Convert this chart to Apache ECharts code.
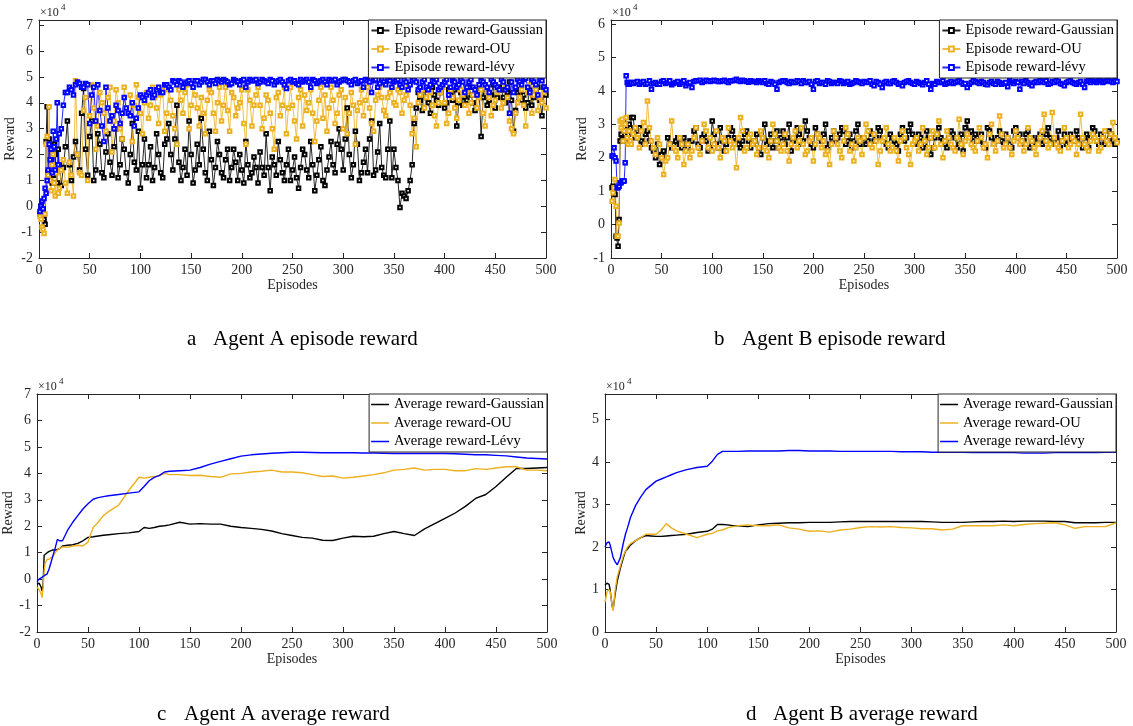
<!DOCTYPE html>
<html><head><meta charset="utf-8">
<script src="https://cdn.jsdelivr.net/npm/echarts@6/dist/echarts.min.js"></script>
<style>html,body{margin:0;padding:0;background:#fff}#c{width:1133px;height:726px}</style>
</head><body><div id="c"></div><script>
// ---------- Episode x positions (episodes) ----------
const EP_X = [1,2,3,4,5,6,7,8,9,10,11,12,13,14,15,16,17,18,19,20,
22,24,26,28,30,32,34,36,38,40,42,44,46,48,50,52,54,56,58,60,
62,64,66,68,70,72,74,76,78,80,82,84,86,88,90,92,94,96,98,100,
102,104,106,108,110,112,114,116,118,120,122,124,126,128,130,132,134,136,138,140,
142,144,146,148,150,152,154,156,158,160,162,164,166,168,170,172,174,176,178,180,
182,184,186,188,190,192,194,196,198,200,202,204,206,208,210,212,214,216,218,220,
222,224,226,228,230,232,234,236,238,240,242,244,246,248,250,252,254,256,258,260,
262,264,266,268,270,272,274,276,278,280,282,284,286,288,290,292,294,296,298,300,
302,304,306,308,310,312,314,316,318,320,322,324,326,328,330,332,334,336,338,340,
342,344,346,348,350,352,354,356,358,360,362,364,366,368,370,372,374,376,378,380,
382,384,386,388,390,392,394,396,398,400,402,404,406,408,410,412,414,416,418,420,
422,424,426,428,430,432,434,436,438,440,442,444,446,448,450,452,454,456,458,460,
462,464,466,468,470,472,474,476,478,480,482,484,486,488,490,492,494,496,498,500];

// ---------- Agent A episode reward (x10^4) ----------
const A_GAUSS = [-0.3,0.0,-0.2,-0.1,-0.5,-0.7,2.5,3.85,1.3,2.6,1.0,1.8,0.9,1.2,2.4,2.0,1.4,0.9,2.2,1.6,
0.8,1.5,2.3,3.3,1.6,1.0,1.9,2.5,2.0,1.4,3.6,4.55,2.2,1.2,2.7,3.3,1.0,1.4,2.8,2.4,
1.3,1.1,2.1,2.8,1.7,1.2,2.3,3.0,1.1,1.6,2.6,2.2,1.3,0.9,2.0,3.2,1.7,1.4,2.9,0.7,
1.6,2.6,1.1,1.6,2.3,1.0,1.5,2.8,2.0,1.3,1.1,2.4,2.6,3.2,2.0,1.4,2.6,3.9,1.7,1.0,
1.5,2.2,1.2,3.3,2.0,0.9,1.4,2.4,1.6,3.4,2.2,1.3,1.0,2.9,1.8,0.8,1.5,2.5,2.0,1.3,
1.1,1.8,2.2,1.0,1.5,2.2,1.7,1.0,2.0,1.4,0.9,2.5,1.6,1.1,1.3,1.9,1.5,0.9,2.1,1.5,
1.2,2.8,1.5,0.6,1.9,1.6,1.2,2.5,1.8,1.3,1.0,1.6,2.2,1.0,1.4,1.9,1.1,0.7,1.5,2.2,
2.0,1.4,1.1,2.5,1.6,0.6,1.2,1.8,2.3,1.0,0.8,1.4,1.9,2.5,1.6,1.3,2.4,3.0,2.2,1.4,
2.6,3.8,2.0,1.1,1.6,2.9,2.4,1.0,1.3,1.7,2.2,1.3,2.6,3.3,1.2,1.4,2.1,3.2,1.5,1.2,
1.1,2.2,3.3,1.1,2.2,1.5,1.0,-0.05,0.5,0.4,0.3,0.6,1.0,1.6,3.2,3.8,4.4,4.1,3.7,4.5,
4.2,4.0,3.6,4.6,4.3,4.1,3.9,4.4,4.7,3.8,4.0,4.5,4.3,4.1,4.5,3.1,4.0,4.4,3.9,4.2,
4.1,4.6,4.3,4.0,3.7,4.3,4.6,2.7,4.2,4.4,3.9,4.1,4.3,4.7,3.8,4.2,4.6,4.5,4.2,4.0,
4.4,4.8,4.1,2.9,3.7,4.4,4.5,4.1,4.3,3.8,4.0,4.5,3.9,4.2,4.4,4.6,4.1,3.5,4.6,4.3];
const A_OU = [-0.4,-0.5,-0.8,-0.9,-1.05,-0.3,2.4,2.7,1.2,3.85,1.0,0.6,1.6,2.0,0.9,0.4,1.3,1.5,0.5,0.7,
1.4,1.8,0.9,0.5,1.7,1.2,0.4,4.85,2.0,1.3,1.2,3.7,4.2,1.0,3.5,4.7,3.8,2.2,3.1,4.4,
4.0,3.6,2.9,4.2,4.6,2.1,3.3,4.5,4.0,3.0,2.6,4.6,3.8,3.6,4.3,2.5,3.9,4.7,4.2,3.6,
2.8,4.0,4.4,3.4,3.9,4.6,4.2,3.8,3.2,4.3,4.5,2.9,3.6,4.5,4.1,3.5,3.0,2.4,4.5,4.1,
3.6,4.4,4.7,3.0,3.9,4.6,4.3,3.8,3.1,4.2,3.6,2.8,4.1,4.5,4.4,3.6,2.9,4.0,4.6,3.3,
3.9,4.6,3.7,2.9,4.4,4.2,3.5,3.8,4.0,4.5,3.2,2.4,4.5,4.1,3.1,3.9,4.3,4.6,3.9,3.0,
3.4,4.3,4.1,3.6,3.0,2.2,4.2,4.4,3.5,3.9,4.6,2.8,3.8,4.6,3.9,3.3,2.6,4.2,4.5,3.1,
4.3,3.7,4.0,4.5,3.6,2.5,3.3,4.1,4.6,3.4,4.3,2.9,3.8,4.6,4.1,3.2,3.6,4.3,4.5,3.0,
4.2,2.8,3.6,4.4,3.9,2.4,3.7,4.0,4.5,3.5,4.1,4.6,3.8,3.2,2.9,4.1,4.3,4.6,4.2,3.7,
3.5,4.2,4.4,4.6,4.0,3.9,4.5,4.4,3.6,4.1,4.3,4.6,3.9,2.8,3.4,2.3,4.0,4.3,4.5,3.8,
4.2,4.6,4.4,3.9,3.5,3.1,4.0,4.4,4.6,4.0,3.2,3.6,4.5,4.2,3.8,3.4,4.1,4.5,4.3,3.9,
4.4,3.6,4.0,4.3,4.6,3.8,4.2,4.5,3.6,3.1,4.4,4.2,3.5,3.9,4.1,4.4,4.5,3.8,4.0,4.6,
4.2,3.3,3.0,2.8,3.6,4.0,4.2,4.5,3.9,3.1,4.4,4.7,3.6,4.3,4.5,3.7,4.2,4.0,4.4,3.8];
const A_LEVY = [-0.2,0.0,0.2,-0.1,0.3,0.7,0.5,1.0,1.4,2.4,1.8,2.2,1.3,2.9,2.3,1.4,2.6,4.0,1.6,2.8,
3.0,3.9,4.4,4.4,4.6,4.5,4.3,4.7,4.8,4.75,4.6,4.6,4.75,4.7,3.2,4.3,4.6,3.3,4.7,3.7,
3.1,2.5,4.6,3.8,3.3,3.5,3.0,3.9,3.7,3.2,3.6,4.2,3.8,3.6,3.5,4.0,3.1,3.4,3.8,4.3,
4.2,4.1,4.3,4.4,4.5,4.2,4.3,4.5,4.6,4.4,4.4,4.7,4.7,4.6,4.5,4.85,4.8,4.7,4.85,4.8,
4.6,4.75,4.8,4.85,4.75,4.6,4.85,4.85,4.7,4.8,4.9,4.9,4.8,4.7,4.85,4.85,4.75,4.9,4.85,4.8,
4.9,4.85,4.8,4.7,4.75,4.9,4.85,4.8,4.7,4.85,4.9,4.6,4.8,4.9,4.85,4.85,4.9,4.75,4.8,4.9,
4.85,4.8,4.75,4.9,4.85,4.7,4.8,4.85,4.9,4.8,4.7,4.55,4.85,4.9,4.8,4.85,4.75,4.7,4.9,4.8,
4.85,4.9,4.8,4.6,4.9,4.85,4.75,4.8,4.85,4.9,4.8,4.7,4.9,4.85,4.85,4.9,4.7,4.8,4.85,4.9,
4.9,4.85,4.8,4.7,4.85,4.9,4.75,4.8,4.85,4.6,4.9,4.85,4.8,4.4,4.85,4.9,4.6,4.75,4.9,4.8,
4.7,4.9,4.85,4.6,4.8,4.85,4.9,4.7,4.6,4.9,4.8,4.5,4.7,4.85,4.9,4.8,4.5,4.6,4.8,4.9,
4.6,4.5,4.7,4.85,4.8,4.9,4.5,4.6,4.7,4.8,4.9,4.3,4.6,4.85,4.8,4.6,4.7,4.9,4.8,4.4,
4.6,4.8,4.9,4.6,4.5,4.3,4.7,4.85,4.8,4.7,4.6,4.4,4.9,4.8,4.7,4.6,4.5,4.9,4.8,4.5,
4.6,3.6,4.8,4.4,4.6,4.9,4.8,4.7,4.9,4.95,4.6,4.4,4.9,4.8,4.7,4.3,4.9,4.85,4.6,4.5];

// ---------- Agent B episode reward (x10^4) ----------
const B_GAUSS = [1.1,1.15,1.05,0.9,-0.35,-0.4,-0.65,0.15,2.5,2.7,2.6,2.55,2.9,2.8,2.5,2.6,2.7,3.0,2.9,3.2,
3.2,2.6,2.8,2.9,2.5,2.4,2.7,2.8,2.5,2.3,2.2,2.0,2.4,1.8,2.1,2.2,2.0,2.6,2.4,2.3,
2.4,2.5,2.6,2.4,2.3,2.6,2.4,2.3,2.5,2.5,2.8,2.9,2.4,2.3,2.6,2.7,2.5,2.2,2.3,3.1,
2.7,2.4,2.3,2.9,2.5,2.2,2.4,2.6,2.9,2.8,2.6,2.5,2.4,2.3,2.5,2.7,2.8,2.5,2.3,2.4,
2.5,2.7,2.3,2.1,2.6,3.0,2.4,2.5,2.7,2.3,2.5,2.8,2.3,2.6,2.8,2.4,2.6,3.0,2.2,2.5,
2.6,2.9,2.7,2.4,2.5,3.1,2.8,2.6,2.4,2.3,2.9,2.7,2.6,2.5,2.7,3.0,2.3,2.4,2.6,2.8,
2.5,2.6,2.7,2.9,2.8,2.4,2.5,2.7,2.3,2.5,2.8,3.0,2.4,2.6,2.6,2.4,2.5,2.8,2.7,2.5,
2.6,2.9,2.8,2.6,2.5,2.4,2.3,2.7,2.6,2.5,2.4,2.2,2.7,2.9,2.5,2.6,2.8,3.0,2.7,2.4,
2.5,2.7,2.6,2.3,2.4,2.8,2.6,2.1,2.3,2.6,2.7,2.9,2.6,2.5,2.4,2.3,2.6,2.8,2.7,2.6,
2.3,2.4,2.7,2.2,2.9,3.1,2.7,2.8,2.5,2.7,2.6,2.5,2.7,2.4,2.3,2.9,2.8,2.6,2.4,2.5,
2.6,2.8,2.5,2.4,2.7,2.6,2.4,2.3,2.8,2.9,2.6,2.7,2.4,2.5,2.7,2.8,2.3,2.6,2.5,2.4,
2.6,2.7,2.4,2.5,2.7,2.9,2.6,2.4,2.5,2.6,2.8,2.3,2.5,2.7,2.4,2.5,2.7,2.6,2.5,2.8,
2.6,2.4,2.3,2.6,2.7,2.3,2.6,2.9,2.8,2.5,2.4,2.7,2.6,2.4,2.5,2.8,2.7,2.5,2.4,2.5];
const B_OU = [0.7,0.95,1.1,1.35,0.55,-0.35,-0.35,0.05,3.1,2.9,3.15,2.5,2.8,3.0,3.2,2.6,2.4,2.8,2.5,2.4,
2.7,2.9,2.6,2.3,2.8,3.05,2.4,3.7,2.9,2.5,2.3,2.1,2.6,2.4,2.0,1.5,1.9,2.0,2.4,3.1,
2.3,2.2,2.0,2.6,2.4,1.8,2.2,2.4,2.0,2.2,2.6,2.9,2.3,2.1,2.5,3.0,2.8,2.3,2.6,2.2,
2.4,2.8,2.3,2.0,2.6,2.5,2.2,2.9,2.5,2.3,2.4,1.7,2.6,3.2,2.8,2.2,2.3,2.6,2.7,2.4,
2.5,2.1,2.3,2.8,2.6,2.3,2.2,2.0,2.5,3.0,2.7,2.5,2.3,2.2,2.4,2.7,2.2,1.9,2.4,2.6,
2.8,2.3,2.5,2.9,2.4,2.1,2.2,2.5,2.6,1.9,2.4,2.7,2.6,2.3,2.5,2.1,2.2,1.8,2.4,2.8,
2.6,2.4,2.2,2.0,2.5,2.9,2.7,2.2,2.4,1.9,2.3,2.6,2.5,2.1,2.6,3.0,2.8,2.4,2.3,2.7,
2.5,1.8,2.2,2.5,2.6,2.9,2.4,2.2,2.3,2.6,2.2,1.9,2.5,2.8,2.6,2.3,2.1,1.8,2.4,2.5,
2.6,2.2,2.4,2.9,2.5,2.1,2.3,2.6,2.8,2.3,2.7,3.1,2.4,2.0,2.5,2.8,2.6,2.4,2.3,2.2,
2.6,3.15,2.4,2.1,2.5,2.7,2.6,2.4,2.3,2.2,2.5,2.9,2.6,2.3,2.4,2.0,2.7,3.0,2.4,2.2,
2.5,3.25,2.7,2.3,2.4,2.6,2.3,2.1,2.5,2.8,2.6,2.4,2.5,2.2,2.4,2.9,2.6,2.5,2.3,2.1,
2.4,2.6,2.8,3.3,2.5,2.3,2.4,3.35,2.6,2.4,2.3,2.2,2.5,2.9,2.6,2.3,2.4,2.6,2.5,2.1,
2.4,3.3,2.6,2.4,2.3,2.2,2.5,2.7,2.6,2.5,2.2,2.3,2.6,2.8,2.5,2.4,2.7,3.05,2.6,2.45];
const B_LEVY = [2.05,2.05,2.3,2.0,1.9,1.1,1.1,1.15,1.25,1.25,1.3,1.3,1.3,1.85,4.45,4.25,4.2,4.2,4.25,4.25,
4.22,4.25,4.28,4.2,4.25,4.28,4.2,4.22,4.3,4.05,4.22,4.25,4.2,4.2,4.28,4.3,4.22,4.25,4.3,4.18,
4.22,4.25,4.28,4.2,4.25,4.3,4.15,4.22,4.25,4.1,4.28,4.3,4.3,4.32,4.25,4.28,4.32,4.3,4.28,4.3,
4.32,4.3,4.28,4.28,4.3,4.32,4.28,4.25,4.3,4.3,4.32,4.35,4.3,4.28,4.32,4.3,4.28,4.26,4.3,4.28,
4.28,4.25,4.3,4.28,4.25,4.3,4.22,4.2,4.28,4.25,4.2,4.05,4.25,4.28,4.3,4.3,4.25,4.22,4.28,4.25,
4.25,4.3,4.28,4.22,4.3,4.25,4.25,4.28,4.2,4.05,4.28,4.3,4.22,4.25,4.25,4.2,4.3,4.28,4.22,4.25,
4.25,4.22,4.3,4.28,4.22,4.25,4.28,4.2,4.22,4.25,4.3,4.28,4.25,4.22,4.28,4.26,4.25,4.3,4.2,4.15,
4.28,4.25,4.2,4.1,4.25,4.28,4.22,4.22,4.28,4.3,4.25,4.2,4.22,4.15,4.25,4.28,4.3,4.25,4.22,4.2,
4.28,4.25,4.22,4.18,4.25,4.3,4.2,4.05,4.22,4.2,4.28,4.25,4.25,4.3,4.2,4.22,4.25,4.28,4.22,4.25,
4.28,4.3,4.25,4.2,4.22,4.1,4.2,4.25,4.3,4.28,4.25,4.22,4.28,4.25,4.2,4.18,4.25,4.28,4.22,4.2,
4.28,4.25,4.2,4.22,4.25,4.12,4.3,4.25,4.22,4.28,4.25,4.05,4.28,4.22,4.3,4.25,4.2,4.15,4.25,4.28,
4.25,4.3,4.28,4.25,4.3,4.2,4.22,4.28,4.25,4.3,4.28,4.22,4.2,4.15,4.25,4.28,4.3,4.25,4.22,4.2,
4.25,4.28,4.2,4.1,4.28,4.3,4.25,4.32,4.28,4.25,4.3,4.3,4.25,4.28,4.3,4.3,4.28,4.25,4.3,4.28];

// ---------- Average reward x positions ----------
const AVG_X = [0,2,4,5,6,7,8,10,12,15,
18,20,22,25,30,35,40,45,50,55,
60,65,70,80,90,100,105,110,115,120,
125,130,140,150,160,170,180,190,200,210,
220,230,240,250,260,270,280,290,300,310,
320,330,340,350,360,370,380,390,400,410,
420,430,440,450,460,470,480,490,500];

// ---------- Agent A average reward (x10^4) ----------
const C_GAUSS = [-0.2,-0.15,-0.3,-0.45,-0.2,0.9,0.95,1.0,1.05,1.1,
1.1,1.12,1.15,1.25,1.28,1.3,1.35,1.45,1.58,1.6,
1.63,1.66,1.68,1.72,1.75,1.8,1.95,1.92,1.95,2.0,
2.02,2.05,2.15,2.08,2.1,2.08,2.08,2.0,1.95,1.92,
1.88,1.82,1.72,1.65,1.58,1.55,1.47,1.46,1.55,1.62,
1.6,1.62,1.72,1.8,1.72,1.65,1.9,2.1,2.3,2.5,
2.75,3.05,3.2,3.5,3.85,4.18,4.18,4.2,4.22];
const C_OU = [-0.3,-0.4,-0.55,-0.7,-0.3,0.3,0.6,0.75,0.75,0.85,
1.0,1.1,1.15,1.22,1.2,1.25,1.28,1.25,1.4,1.95,
2.15,2.4,2.55,2.8,3.35,3.85,3.82,3.85,3.88,3.9,
4.0,3.95,3.95,3.92,3.93,3.88,3.85,3.98,4.0,4.05,
4.08,4.12,4.05,4.05,4.02,3.95,3.88,3.9,3.82,3.85,
3.9,3.95,4.02,4.12,4.15,4.2,4.12,4.15,4.15,4.1,
4.1,4.18,4.15,4.2,4.25,4.25,4.12,4.12,4.1];
const C_LEVY = [-0.1,0.0,0.05,0.1,0.1,0.15,0.15,0.2,0.4,0.8,
1.2,1.5,1.45,1.45,1.85,2.15,2.4,2.65,2.85,3.02,
3.08,3.12,3.15,3.2,3.25,3.3,3.5,3.72,3.85,3.92,
4.05,4.08,4.1,4.12,4.22,4.35,4.45,4.55,4.65,4.7,
4.73,4.76,4.78,4.8,4.8,4.79,4.78,4.78,4.78,4.78,
4.77,4.77,4.76,4.75,4.75,4.75,4.75,4.75,4.75,4.74,
4.72,4.7,4.7,4.68,4.66,4.62,4.58,4.56,4.54];

// ---------- Agent B average reward (x10^4) ----------
const D_GAUSS = [1.1,1.15,1.12,1.0,0.8,0.6,0.55,0.9,1.2,1.5,
1.75,1.9,1.95,2.05,2.15,2.22,2.27,2.26,2.25,2.25,
2.26,2.27,2.28,2.3,2.34,2.37,2.42,2.53,2.53,2.52,
2.5,2.5,2.48,2.52,2.55,2.56,2.57,2.57,2.58,2.58,
2.58,2.59,2.6,2.6,2.6,2.6,2.6,2.6,2.6,2.6,
2.59,2.58,2.58,2.58,2.59,2.6,2.6,2.61,2.6,2.61,
2.61,2.61,2.6,2.6,2.57,2.57,2.57,2.58,2.58];
const D_OU = [0.7,0.95,1.0,0.95,0.8,0.6,0.5,1.0,1.3,1.55,
1.8,1.9,2.0,2.08,2.15,2.22,2.3,2.3,2.3,2.4,
2.55,2.45,2.38,2.3,2.22,2.3,2.32,2.38,2.4,2.45,
2.48,2.5,2.52,2.5,2.5,2.52,2.45,2.42,2.37,2.38,
2.35,2.4,2.42,2.46,2.48,2.47,2.48,2.46,2.45,2.43,
2.43,2.4,2.42,2.5,2.5,2.5,2.5,2.52,2.5,2.53,
2.55,2.56,2.57,2.52,2.44,2.48,2.48,2.48,2.57];
const D_LEVY = [2.0,2.1,2.12,2.05,1.95,1.85,1.75,1.65,1.58,1.75,
2.1,2.3,2.45,2.7,2.98,3.18,3.35,3.45,3.55,3.6,
3.65,3.7,3.75,3.82,3.87,3.9,4.02,4.18,4.25,4.25,
4.25,4.25,4.26,4.26,4.26,4.26,4.27,4.27,4.26,4.26,
4.26,4.25,4.25,4.25,4.25,4.25,4.25,4.24,4.24,4.24,
4.23,4.23,4.23,4.23,4.22,4.22,4.22,4.22,4.22,4.21,
4.21,4.21,4.22,4.22,4.22,4.22,4.22,4.23,4.23];

// ---------- Text ----------
const CAPTIONS = [
  ['a', 'Agent A episode reward'],
  ['b', 'Agent B episode reward'],
  ['c', 'Agent A average reward'],
  ['d', 'Agent B average reward']
];
const LEG_EP = ['Episode reward-Gaussian', 'Episode reward-OU', 'Episode reward-lévy'];
const LEG_C = ['Average reward-Gaussian', 'Average reward-OU', 'Average reward-Lévy'];
const LEG_D = ['Average reward-Gaussian', 'Average reward-OU', 'Average reward-lévy'];

const FONT = 'Liberation Serif';
const AX = '#262626';
const COLS = ['#000000', '#EDB120', '#0000FF'];

const GRIDS = [
  {left: 39, top: 20, width: 507, height: 238},
  {left: 611, top: 20, width: 506, height: 238},
  {left: 37, top: 394, width: 510, height: 238},
  {left: 605, top: 394, width: 511, height: 238}
];
const YR = [[-2, 7.2], [-1, 6.12], [-2, 7], [0, 5.6]];

function xAx(gi, pos) {
  const b = pos === 'bottom';
  return {gridIndex: gi, type: 'value', min: 0, max: 500, interval: 50, position: pos,
    axisLine: {show: true, onZero: false, lineStyle: {color: AX, width: 1}},
    axisTick: {show: true, inside: true, length: 5, lineStyle: {color: AX}},
    axisLabel: {show: b, color: AX, fontFamily: FONT, fontSize: 14, margin: 5},
    splitLine: {show: false},
    name: b ? 'Episodes' : '', nameLocation: 'middle', nameGap: 20,
    nameTextStyle: {color: AX, fontFamily: FONT, fontSize: 14}};
}
function yAx(gi, pos) {
  const l = pos === 'left';
  return {gridIndex: gi, type: 'value', min: YR[gi][0], max: YR[gi][1], interval: 1, position: pos,
    axisLine: {show: true, onZero: false, lineStyle: {color: AX, width: 1}},
    axisTick: {show: true, inside: true, length: 5, lineStyle: {color: AX}},
    axisLabel: {show: l, color: AX, fontFamily: FONT, fontSize: 14, margin: 6,
      formatter: v => (Math.abs(v - Math.round(v)) < 1e-6 ? String(Math.round(v)) : '')},
    splitLine: {show: false},
    name: l ? 'Reward' : '', nameLocation: 'middle', nameGap: 13,
    nameTextStyle: {color: AX, fontFamily: FONT, fontSize: 14}};
}

const xAxis = [], yAxis = [];
for (let g = 0; g < 4; g++) { xAxis.push(xAx(g, 'bottom')); yAxis.push(yAx(g, 'left')); }
for (let g = 0; g < 4; g++) { xAxis.push(xAx(g, 'top')); yAxis.push(yAx(g, 'right')); }

function epSeries(name, xs, ys, c, g) {
  return {name, type: 'line', xAxisIndex: g, yAxisIndex: g,
    data: xs.map((x, i) => [x, ys[i]]),
    symbol: 'emptyRect', symbolSize: 3.5, showSymbol: true,
    lineStyle: {color: c, width: 1, opacity: 0.85},
    itemStyle: {color: c, borderColor: c, borderWidth: 1},
    emphasis: {disabled: true}, animation: false};
}
function avgSeries(name, xs, ys, c, g) {
  return {name, type: 'line', xAxisIndex: g, yAxisIndex: g,
    data: xs.map((x, i) => [x, ys[i]]),
    symbol: 'none', showSymbol: false,
    lineStyle: {color: c, width: 1.4},
    itemStyle: {color: c},
    emphasis: {disabled: true}, animation: false};
}

const series = [
  epSeries(LEG_EP[0], EP_X, A_GAUSS, COLS[0], 0),
  epSeries(LEG_EP[1], EP_X, A_OU, COLS[1], 0),
  epSeries(LEG_EP[2], EP_X, A_LEVY, COLS[2], 0),
  epSeries(LEG_EP[0], EP_X, B_GAUSS, COLS[0], 1),
  epSeries(LEG_EP[1], EP_X, B_OU, COLS[1], 1),
  epSeries(LEG_EP[2], EP_X, B_LEVY, COLS[2], 1),
  avgSeries(LEG_C[0], AVG_X, C_GAUSS, COLS[0], 2),
  avgSeries(LEG_C[1], AVG_X, C_OU, COLS[1], 2),
  avgSeries(LEG_C[2], AVG_X, C_LEVY, COLS[2], 2),
  avgSeries(LEG_D[0], AVG_X, D_GAUSS, COLS[0], 3),
  avgSeries(LEG_D[1], AVG_X, D_OU, COLS[1], 3),
  avgSeries(LEG_D[2], AVG_X, D_LEVY, COLS[2], 3)
];

function legendEp(names, right, top) {
  return {data: names, orient: 'vertical', right, top, selectedMode: false,
    backgroundColor: '#fff', borderColor: AX, borderWidth: 1,
    padding: [3, 3, 3, 2], itemGap: 3.5, itemWidth: 18, itemHeight: 6,
    textStyle: {color: '#000', fontFamily: FONT, fontSize: 14.5, lineHeight: 14}};
}
function legendAvg(names, right, top) {
  return {data: names.map(n => ({name: n, icon: 'rect'})), orient: 'vertical', right, top,
    selectedMode: false,
    backgroundColor: '#fff', borderColor: AX, borderWidth: 1,
    padding: [3, 3, 3, 2], itemGap: 3.5, itemWidth: 18, itemHeight: 1.5,
    itemStyle: {borderWidth: 0},
    textStyle: {color: '#000', fontFamily: FONT, fontSize: 14.5, lineHeight: 14}};
}

const graphic = [];
GRIDS.forEach((g, i) => {
  graphic.push({type: 'text', left: g.left + 1, top: g.top - 13,
    style: {text: '×10', font: '12px "Liberation Serif"', fill: AX}});
  graphic.push({type: 'text', left: g.left + 22, top: g.top - 17,
    style: {text: '4', font: '9px "Liberation Serif"', fill: AX}});
});
const CAP_POS = [[187, 213, 329], [714, 742, 329], [157, 184, 704], [746, 773, 704]];
CAPTIONS.forEach((c, i) => {
  const p = CAP_POS[i];
  graphic.push({type: 'text', left: p[0], top: p[2],
    style: {text: c[0], font: '21px "Liberation Serif"', fill: '#000'}});
  graphic.push({type: 'text', left: p[1], top: p[2],
    style: {text: c[1], font: '21px "Liberation Serif"', fill: '#000'}});
});

const chart = echarts.init(document.getElementById('c'), null, {renderer: 'canvas'});
chart.setOption({
  animation: false,
  backgroundColor: '#fff',
  grid: GRIDS,
  xAxis, yAxis, series,
  legend: [
    legendEp(LEG_EP, 1133 - 546, 20),
    legendEp(LEG_EP, 1133 - 1117, 20),
    legendAvg(LEG_C, 1133 - 547, 394),
    legendAvg(LEG_D, 1133 - 1116, 394)
  ],
  graphic
});
</script></body></html>
